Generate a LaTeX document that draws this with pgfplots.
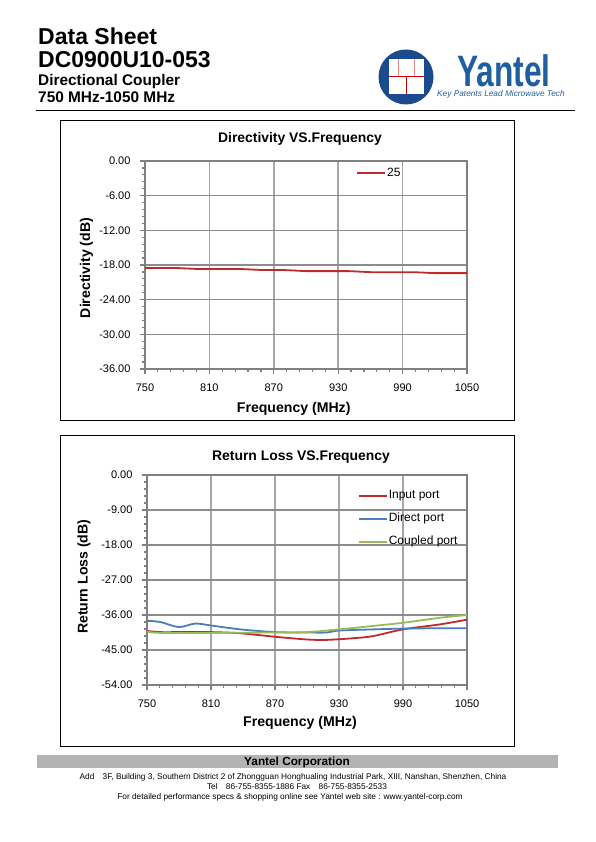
\documentclass[border=0pt]{standalone}
\usepackage{fontspec}
\setmainfont{Liberation Sans}
\usepackage{pgfplots}
\pgfplotsset{compat=1.18}
\definecolor{xred}{HTML}{BE2B2F}
\definecolor{xblue}{HTML}{4A7DBA}
\definecolor{xgreen}{HTML}{9ABB59}
\definecolor{gridh}{HTML}{8C8C8C}
\definecolor{gridv}{HTML}{A6A6A6}
\definecolor{axisc}{HTML}{808080}
\definecolor{navy}{HTML}{1B4B8E}
\definecolor{ytblue}{HTML}{1F5FA0}
\definecolor{footgray}{HTML}{B3B3B3}
\definecolor{lred}{HTML}{E88A8A}
\pgfplotsset{chartstyle/.style={
  scale only axis, xmin=750, xmax=1050,
  xtick={750,810,870,930,990,1050},
  xticklabels={750,810,870,930,990,1050},
  minor x tick num=4, minor y tick num=4,
  grid=major,
  major x grid style={gridv, line width=1.5pt},
  major y grid style={gridh, line width=1.5pt},
  axis line style={axisc, line width=1.5pt},
  tick align=outside, tick pos=left,
  major tick length=5pt, minor tick length=3pt,
  tick style={axisc, line width=1.2pt},
  ticklabel style={font=\fontsize{11}{13}\selectfont},
  yticklabel style={xshift=-6pt},
  xticklabel style={yshift=-6pt},
  legend cell align=left,
  legend image code/.code={\draw[##1, line width=2pt] (0pt,0pt) -- (28pt,0pt);},
}}
\begin{document}
\begin{tikzpicture}[x=1pt,y=1pt]
\path (0,0) rectangle (595,842);
% header
\node[anchor=base west, inner sep=0pt, font=\bfseries\fontsize{23}{26}\selectfont] at (38,{842-45}) {Data Sheet};
\node[anchor=base west, inner sep=0pt, font=\bfseries\fontsize{23}{26}\selectfont] at (38,{842-67.5}) {DC0900U10-053};
\node[anchor=base west, inner sep=0pt, font=\bfseries\fontsize{15.4}{18}\selectfont] at (38,{842-86}) {Directional Coupler};
\node[anchor=base west, inner sep=0pt, font=\bfseries\fontsize{15.4}{18}\selectfont] at (38,{842-102.5}) {750 MHz-1050 MHz};
\draw[line width=1.5pt] (36,{842-110.5}) -- (575,{842-110.5});
% logo
\fill[navy] (406,{842-77}) circle (27.5);
\fill[white] (389,{842-59}) rectangle (424,{842-94});
\draw[lred, line width=0.9pt] (398,{842-59}) -- (398,{842-76});
\draw[lred, line width=0.9pt] (414,{842-59}) -- (414,{842-76});
\draw[red!80!black, line width=0.9pt] (389,{842-76}) -- (424,{842-76});
\draw[red!80!black, line width=0.9pt] (406,{842-76}) -- (406,{842-94});
\node[anchor=base west, inner sep=0pt, text depth=0pt, xscale=0.72, text=ytblue, font=\bfseries\fontsize{44}{48}\selectfont] at (457,{842-86.5}) {Yantel};
\node[anchor=base west, inner sep=0pt, text height=6pt, text=ytblue, font=\itshape\fontsize{8.3}{10}\selectfont] at (437,{842-96.5}) {Key Patents Lead Microwave Tech};
% frames
\draw[line width=1pt] (60,{842-120.7}) rectangle (514,{842-421});
\draw[line width=1pt] (60,{842-436}) rectangle (514,{842-746.5});
% chart 1
\node[anchor=base, font=\bfseries\fontsize{13.9}{16}\selectfont] at (300,{842-142.7}) {Directivity VS.Frequency};
\node[anchor=base, font=\bfseries\fontsize{14.1}{16}\selectfont] at (293.7,{842-413}) {Frequency (MHz)};
\node[anchor=base, rotate=90, font=\bfseries\fontsize{14.1}{16}\selectfont] at (90,{842-268}) {Directivity (dB)};
\begin{axis}[chartstyle, at={(145pt,473pt)}, anchor=south west, width=322pt, height=208pt,
  ymin=-36, ymax=0, ytick={-36,-30,-24,-18,-12,-6,0},
  yticklabels={-36.00,-30.00,-24.00,-18.00,-12.00,-6.00,0.00},
  legend style={draw=none, fill=none, at={(0.655,0.941)}, anchor=west, inner sep=0pt,
    font=\fontsize{12}{14}\selectfont, nodes={inner sep=1pt, text height=9pt, text depth=3pt}}]
\addplot[xred, line width=1.8pt] coordinates {
(750,-18.53) (780,-18.53) (800,-18.70) (840,-18.70) (860,-18.88) (880,-18.88)
(900,-19.06) (940,-19.06) (960,-19.24) (1000,-19.24) (1020,-19.41) (1050,-19.41)};
\addlegendentry{25}
\end{axis}
% chart 2
\node[anchor=base, font=\bfseries\fontsize{13.9}{16}\selectfont] at (301,{842-460.3}) {Return Loss VS.Frequency};
\node[anchor=base, font=\bfseries\fontsize{14.1}{16}\selectfont] at (300,{842-726.7}) {Frequency (MHz)};
\node[anchor=base, rotate=90, font=\bfseries\fontsize{14.1}{16}\selectfont] at (87.7,{842-576.7}) {Return Loss (dB)};
\begin{axis}[chartstyle, at={(147pt,157pt)}, anchor=south west, width=320pt, height=210pt,
  ymin=-54, ymax=0, ytick={-54,-45,-36,-27,-18,-9,0},
  yticklabels={-54.00,-45.00,-36.00,-27.00,-18.00,-9.00,0.00},
  legend style={draw=none, fill=none, at={(0.658,0.791)}, anchor=west, inner sep=0pt, row sep=9pt,
    font=\fontsize{12}{14}\selectfont, nodes={inner sep=1pt, text height=9pt, text depth=3pt}}]
\addplot[xred, line width=1.8pt, smooth] coordinates {
(750,-40.1) (762.5,-40.4) (780,-40.4) (810,-40.4) (837.5,-40.7) (870,-41.6) (900,-42.3)
(918.75,-42.4) (946.9,-41.9) (962.5,-41.4) (990,-39.7) (1025,-38.4) (1050,-37.2)};
\addlegendentry{Input port}
\addplot[xblue, line width=1.8pt, smooth] coordinates {
(750,-37.5) (762.5,-37.8) (779.7,-39.1) (795.3,-38.2) (810,-38.7) (837.5,-39.7) (870,-40.4)
(900,-40.5) (918.75,-40.5) (930,-40.0) (962.5,-39.7) (990,-39.5) (1025,-39.4) (1050,-39.4)};
\addlegendentry{Direct port}
\addplot[xgreen, line width=1.8pt, smooth] coordinates {
(750,-40.3) (762.5,-40.6) (810,-40.6) (870,-40.5) (900,-40.4) (930,-39.7) (962.5,-38.8)
(990,-38.0) (1025,-36.7) (1050,-36.0)};
\addlegendentry{Coupled port}
\end{axis}
% footer
\fill[footgray] (37,{842-755}) rectangle (558,{842-768});
\node[anchor=base, inner sep=0pt, font=\bfseries\fontsize{11.8}{14}\selectfont] at (297,{842-766}) {Yantel Corporation};
\node[anchor=base, inner sep=0pt, font=\fontsize{8.3}{9}\selectfont] at (293,{842-780}) {Add\quad 3F, Building 3, Southern District 2 of Zhongguan Honghualing Industrial Park, XIII, Nanshan, Shenzhen, China};
\node[anchor=base, inner sep=0pt, font=\fontsize{8.3}{9}\selectfont] at (297,{842-790}) {Tel\quad 86-755-8355-1886 Fax\quad 86-755-8355-2533};
\node[anchor=base, inner sep=0pt, font=\fontsize{8.3}{9}\selectfont] at (290,{842-800}) {For detailed performance specs \& shopping online see Yantel web site : www.yantel-corp.com};
\end{tikzpicture}
\end{document}
